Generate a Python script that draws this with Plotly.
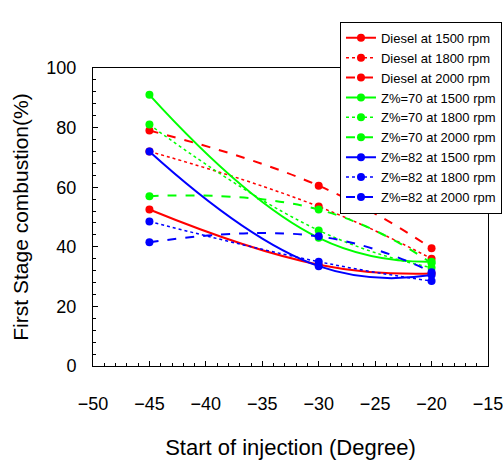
import plotly.graph_objects as go

soi = [-45, -30, -20]

diesel_1500 = [52.5, 34, 31]
diesel_1800 = [72, 53.5, 36]
diesel_2000 = [79, 60.5, 39.5]
z70_1500 = [91, 43, 35]
z70_1800 = [81, 45.5, 33]
z70_2000 = [57, 52.5, 34.5]
z82_1500 = [72, 33.5, 30.5]
z82_1800 = [48.5, 35, 28.5]
z82_2000 = [41.5, 43.5, 31.5]

series = [
    ("Diesel at 1500 rpm", diesel_1500, "#ff0000", "solid"),
    ("Diesel at 1800 rpm", diesel_1800, "#ff0000", "dot"),
    ("Diesel at 2000 rpm", diesel_2000, "#ff0000", "dash"),
    ("Z%=70 at 1500 rpm", z70_1500, "#00ff00", "solid"),
    ("Z%=70 at 1800 rpm", z70_1800, "#00ff00", "dot"),
    ("Z%=70 at 2000 rpm", z70_2000, "#00ff00", "dash"),
    ("Z%=82 at 1500 rpm", z82_1500, "#0000ff", "solid"),
    ("Z%=82 at 1800 rpm", z82_1800, "#0000ff", "dot"),
    ("Z%=82 at 2000 rpm", z82_2000, "#0000ff", "dash"),
]

fig = go.Figure()
for name, ys, col, dash in series:
    fig.add_trace(go.Scatter(
        x=soi, y=ys, name=name, mode="lines+markers",
        line=dict(color=col, dash=dash, width=2 if dash != "dot" else 1.5,
                  shape="spline", smoothing=1.3),
        marker=dict(color=col, size=8),
    ))

font = "Liberation Sans, Arial, sans-serif"
fig.update_layout(
    width=503, height=462,
    margin=dict(l=93, r=15, t=68, b=96, autoexpand=False),
    paper_bgcolor="white", plot_bgcolor="white",
    font=dict(family=font, color="black"),
    showlegend=True,
    legend=dict(
        x=1.0354, y=1.155, xanchor="right", yanchor="top",
        bgcolor="white", bordercolor="black", borderwidth=1,
        font=dict(size=13, family=font), tracegroupgap=0,
    ),
    xaxis=dict(
        range=[-50, -15], dtick=5, tick0=-50, automargin=False,
        ticklabeloverflow="allow",
        showline=True, linecolor="black", linewidth=1, mirror=True,
        ticks="inside", ticklen=5, tickcolor="black",
        minor=dict(dtick=1, ticks="inside", ticklen=3, tickcolor="black"),
        showgrid=False, zeroline=False,
        tickfont=dict(size=18), ticklabelstandoff=21,
        title=dict(text="Start of injection (Degree)", font=dict(size=22), standoff=27),
    ),
    yaxis=dict(
        range=[0, 100], dtick=20, tick0=0, automargin=False,
        ticklabeloverflow="allow",
        showline=True, linecolor="black", linewidth=1, mirror=True,
        ticks="inside", ticklen=5, tickcolor="black",
        minor=dict(dtick=4, ticks="inside", ticklen=3, tickcolor="black"),
        showgrid=False, zeroline=False,
        tickfont=dict(size=18), ticklabelstandoff=12,
        title=dict(text="First Stage combustion(%)", font=dict(size=21), standoff=12),
    ),
)

fig.write_html("out.html")
